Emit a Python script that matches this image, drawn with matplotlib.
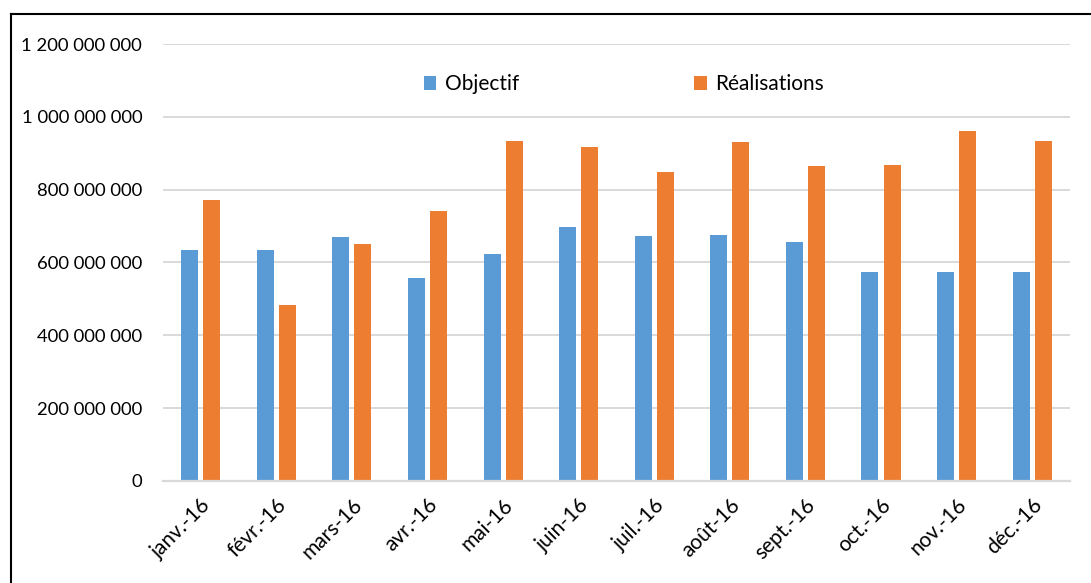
import numpy as np
import matplotlib
matplotlib.use('Agg')
import matplotlib.pyplot as plt
from matplotlib.lines import Line2D
from matplotlib.ticker import FuncFormatter

months = ['janv.-16', 'févr.-16', 'mars-16', 'avr.-16', 'mai-16', 'juin-16',
          'juil.-16', 'août-16', 'sept.-16', 'oct.-16', 'nov.-16', 'déc.-16']
objectif = [635e6, 635e6, 670e6, 558e6, 624e6, 698e6,
            673e6, 676e6, 657e6, 573e6, 573e6, 573e6]
realisations = [772e6, 483e6, 651e6, 742e6, 934e6, 918e6,
                849e6, 931e6, 865e6, 868e6, 962e6, 934e6]

plt.rcParams['font.family'] = ['Lato', 'DejaVu Sans']

fig = plt.figure(figsize=(10.91, 5.83), dpi=100)
ax = fig.add_axes([0.1494, 0.175, 0.8313, 0.7495])

x = np.arange(len(months))
w = 0.225
off = 0.146
ax.bar(x - off, objectif, width=w, color='#5B9BD5', label='Objectif', zorder=3)
ax.bar(x + off, realisations, width=w, color='#ED7D31', label='Réalisations', zorder=3)

ax.set_xlim(-0.5, len(months) - 0.5)
ax.set_ylim(0, 1.2e9)
ax.set_yticks(np.arange(0, 1.2e9 + 1, 2e8))
ax.yaxis.set_major_formatter(FuncFormatter(lambda v, p: f"{int(v):,}".replace(",", " ")))
ax.grid(axis='y', color='#D9D9D9', linewidth=1.4, zorder=0)

for s in ['top', 'right', 'left']:
    ax.spines[s].set_visible(False)
ax.spines['bottom'].set_color('#D9D9D9')
ax.spines['bottom'].set_linewidth(1.6)
ax.spines['bottom'].set_zorder(4)

ax.tick_params(axis='both', length=0, colors='black')
ax.tick_params(axis='y', labelsize=13.3, pad=15)
ax.set_xticks(x)
ax.set_xticklabels(months, rotation=45, ha='right', rotation_mode='anchor')
ax.tick_params(axis='x', labelsize=15, pad=10)

ax.legend(loc='center', bbox_to_anchor=(0.508, 0.908), ncol=2, frameon=False,
          fontsize=15, handlelength=0.62, handleheight=0.62, handletextpad=0.4,
          columnspacing=8.4)

# chart border (top and left only visible in the crop)
fig.add_artist(Line2D([11 / 1091, 1.0], [1 - 14 / 583, 1 - 14 / 583],
                      transform=fig.transFigure, color='black', linewidth=1.5))
fig.add_artist(Line2D([11 / 1091, 11 / 1091], [0, 1 - 14 / 583],
                      transform=fig.transFigure, color='black', linewidth=1.5))

fig.savefig('out.png', dpi=100)
